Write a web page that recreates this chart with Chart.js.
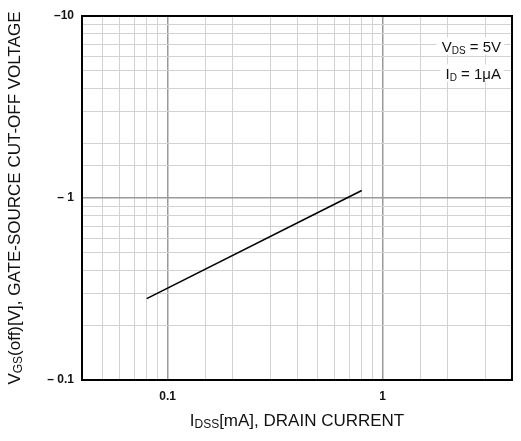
<!DOCTYPE html>
<html>
<head>
<meta charset="utf-8">
<script src="https://cdn.jsdelivr.net/npm/chart.js@4/dist/chart.umd.min.js"></script>
<style>
  html, body { margin: 0; padding: 0; background: #ffffff; }
  #wrap { width: 521px; height: 441px; }
</style>
</head>
<body>
<div id="wrap"><canvas id="c" width="521" height="441"></canvas></div>
<script>
// Drain current I_DSS [mA] against gate-source cut-off voltage magnitude |V_GS(off)| [V]
const idssMA = [0.08, 0.8];
const vgsOffMag = [0.28, 1.1];

// Axis ranges (log-log)
const xRange = [0.04, 4];
const yRange = [0.1, 10];

// Labelled tick values and their texts
const xTickValues = [0.1, 1];
const xTickTexts = ['0.1', '1'];
const yTickValues = [0.1, 1, 10];
const yTickTexts = ['\u2013 0.1', '\u2013 1', '\u201310'];

// Test conditions
const conditionLines = [
  [{ t: 'V' }, { t: 'DS', sub: true }, { t: ' = 5V' }],
  [{ t: 'I' }, { t: 'D', sub: true }, { t: ' = 1\u03BCA' }]
];

const FAMILY = "'Liberation Sans', Arial, Helvetica, sans-serif";

function isDecade(v) {
  const l = Math.log10(v);
  return Math.abs(l - Math.round(l)) < 1e-6;
}
function labelFor(v, values, texts) {
  for (let i = 0; i < values.length; i++) {
    if (Math.abs(Math.log10(v) - Math.log10(values[i])) < 1e-6) return texts[i];
  }
  return '';
}

// Text with subscripts: parts drawn on one alphabetic baseline
function richWidth(ctx, parts, size, subSize) {
  let w = 0;
  for (const p of parts) {
    ctx.font = (p.sub ? subSize : size) + 'px ' + FAMILY;
    w += ctx.measureText(p.t).width;
  }
  return w;
}
function drawRich(ctx, parts, x, baseline, size, subSize, align) {
  const w = richWidth(ctx, parts, size, subSize);
  let cx = align === 'right' ? x - w : (align === 'center' ? x - w / 2 : x);
  ctx.textAlign = 'left';
  ctx.textBaseline = 'alphabetic';
  for (const p of parts) {
    ctx.font = (p.sub ? subSize : size) + 'px ' + FAMILY;
    ctx.fillText(p.t, cx, baseline + (p.sub ? 2 : 0));
    cx += ctx.measureText(p.t).width;
  }
  return w;
}

const decorations = {
  id: 'decorations',
  afterDatasetsDraw(chart) {
    const { ctx, chartArea: a } = chart;
    ctx.save();

    // Test condition notes with white backing
    const right = a.right - 11;
    const baselines = [a.top + 35.5, a.top + 62.5];
    conditionLines.forEach((parts, i) => {
      const w = richWidth(ctx, parts, 15, 10);
      ctx.fillStyle = '#ffffff';
      ctx.fillRect(right - w - 5, baselines[i] - 14, w + 8, 17);
      ctx.fillStyle = '#111111';
      drawRich(ctx, parts, right, baselines[i], 15, 10, 'right');
    });

    // Plot frame
    ctx.strokeStyle = '#000000';
    ctx.lineWidth = 2;
    ctx.strokeRect(a.left, a.top, a.right - a.left, a.bottom - a.top);

    // Axis titles
    ctx.fillStyle = '#111111';
    const xTitle = [{ t: 'I' }, { t: 'DSS', sub: true }, { t: '[mA], DRAIN CURRENT' }];
    drawRich(ctx, xTitle, (a.left + a.right) / 2, a.bottom + 46, 17, 12, 'center');

    const yTitle = [{ t: 'V' }, { t: 'GS', sub: true }, { t: '(off)[V], GATE-SOURCE CUT-OFF VOLTAGE' }];
    ctx.translate(20, (a.top + a.bottom) / 2);
    ctx.rotate(-Math.PI / 2);
    drawRich(ctx, yTitle, 0, 0, 17, 12, 'center');

    ctx.restore();
  }
};

const gridColor = (c) => isDecade(c.tick.value) ? '#9a9a9a' : '#d2d2d2';
const gridWidth = (c) => isDecade(c.tick.value) ? 1.5 : 1;

new Chart(document.getElementById('c'), {
  type: 'line',
  data: {
    datasets: [{
      data: idssMA.map((x, i) => ({ x: x, y: vgsOffMag[i] })),
      borderColor: '#000000',
      borderWidth: 1.6,
      pointRadius: 0,
      fill: false,
      tension: 0
    }]
  },
  options: {
    responsive: false,
    devicePixelRatio: 1,
    animation: false,
    layout: { padding: { left: 0, top: 16, right: 9, bottom: 0 } },
    plugins: { legend: { display: false }, tooltip: { enabled: false } },
    scales: {
      x: {
        type: 'logarithmic',
        min: xRange[0],
        max: xRange[1],
        border: { display: false },
        grid: { color: gridColor, lineWidth: gridWidth, drawTicks: false },
        ticks: {
          autoSkip: false,
          maxRotation: 0,
          padding: 9,
          color: '#111111',
          font: { family: FAMILY, size: 12, weight: 'bold' },
          callback: (v) => labelFor(v, xTickValues, xTickTexts)
        },
        afterFit: (s) => { s.height = 61; }
      },
      y: {
        type: 'logarithmic',
        min: yRange[0],
        max: yRange[1],
        border: { display: false },
        grid: { color: gridColor, lineWidth: gridWidth, drawTicks: false },
        ticks: {
          autoSkip: false,
          padding: 8,
          color: '#111111',
          font: { family: FAMILY, size: 12, weight: 'bold' },
          callback: (v) => labelFor(v, yTickValues, yTickTexts)
        },
        afterFit: (s) => { s.width = 82; }
      }
    }
  },
  plugins: [decorations]
});
</script>
</body>
</html>
